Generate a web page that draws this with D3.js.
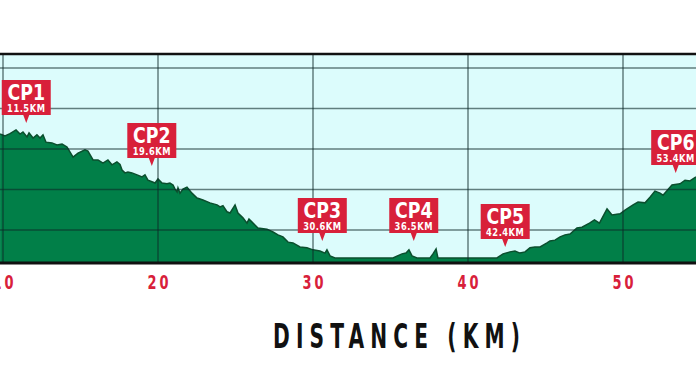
<!DOCTYPE html>
<html>
<head>
<meta charset="utf-8">
<script src="https://cdn.jsdelivr.net/npm/d3@7/dist/d3.min.js"></script>
<style>
  html, body { margin: 0; padding: 0; background: #ffffff; overflow: hidden; }
  svg { display: block; }
</style>
</head>
<body>
<svg id="chart" width="696" height="385"></svg>
<script>
// ---- data ----
const kmTicks = [10, 20, 30, 40, 50];
const kmTickLabels = ["10", "20", "30", "40", "50"];
const elevTicks = [100, 200, 300, 400, 500];

const distanceKm = [
  9.81, 10.13, 10.45, 10.84, 11.10, 11.29, 11.55, 11.68, 11.94, 12.19, 12.39, 12.58, 12.77,
  13.16, 13.48, 13.81, 14.13, 14.52, 14.84, 15.29, 15.48, 15.81, 16.13, 16.45, 16.77,
  17.03, 17.35, 17.55, 17.68, 17.87, 18.06, 18.32, 18.65, 18.97, 19.16, 19.35, 19.61,
  19.81, 20.00, 20.26, 20.58, 20.77, 20.97, 21.10, 21.23, 21.29, 21.42, 21.61, 21.87,
  22.19, 22.52, 22.90, 23.35, 23.81, 24.00, 24.19, 24.45, 24.65, 24.97, 25.16, 25.48,
  25.74, 25.87, 26.13, 26.45, 27.03, 27.42, 27.74, 28.06, 28.39, 28.71, 29.16, 29.61,
  30.00, 30.45, 30.77, 30.90, 31.10, 31.42, 35.16, 35.74, 36.00, 36.19, 36.39, 36.71,
  37.55, 37.74, 37.94, 38.06, 41.87, 42.26, 42.71, 43.03, 43.35, 43.68, 44.00, 44.32,
  44.65, 45.10, 45.29, 45.61, 45.94, 46.26, 46.58, 47.03, 47.35, 47.84, 48.16, 48.48,
  48.97, 49.29, 49.81, 50.13, 50.65, 50.97, 51.42, 51.74, 52.06, 52.39, 52.58, 53.16,
  53.68, 54.00, 54.32, 54.71
];
const elevationM = [
  337, 332, 338, 347, 337, 342, 330, 340, 327, 335, 327, 335, 317,
  315, 310, 312, 305, 280, 290, 298, 295, 273, 273, 265, 273,
  261, 268, 262, 248, 241, 243, 241, 236, 231, 236, 223, 219,
  216, 226, 216, 214, 216, 211, 201, 194, 204, 191, 201, 206,
  191, 179, 174, 167, 162, 157, 160, 145, 142, 162, 142, 130,
  117, 127, 117, 105, 102, 95, 88, 83, 70, 68, 58, 56,
  51, 48, 43, 51, 36, 31, 31, 41, 43, 51, 36, 31,
  31, 41, 53, 31, 31, 41, 46, 48, 43, 46, 56, 58,
  58, 68, 73, 75, 83, 88, 90, 105, 107, 117, 125, 117,
  152, 137, 140, 149, 162, 169, 167, 181, 196, 191, 186, 211,
  214, 223, 221, 231
];

const cpNames = ["CP1", "CP2", "CP3", "CP4", "CP5", "CP6"];
const cpKm = [11.5, 19.6, 30.6, 36.5, 42.4, 53.4];
const cpKmLabels = ["11.5KM", "19.6KM", "30.6KM", "36.5KM", "42.4KM", "53.4KM"];
const cpMarkerElev = [364, 258, 73, 73, 58, 241];

const axisTitle = "DISTANCE (KM)";

// ---- layout ----
const W = 696, H = 385;
const plotTop = 54, plotBottom = 263;
const RED = "#d8203a";
const COND = "'DejaVu Sans Condensed', 'DejaVu Sans', sans-serif";

const x = d3.scaleLinear().domain([10, 50]).range([3, 623]);
const y = d3.scaleLinear().domain([18.5, 534.6]).range([plotBottom, plotTop]);

const svg = d3.select("#chart");

svg.append("defs").append("clipPath").attr("id", "plotclip")
  .append("rect").attr("x", 0).attr("y", plotTop).attr("width", W).attr("height", plotBottom - plotTop);

// background
svg.append("rect")
  .attr("x", 0).attr("y", plotTop).attr("width", W).attr("height", plotBottom - plotTop)
  .attr("fill", "#dcfcfc");

const profile = distanceKm.map((d, i) => ({ km: d, e: elevationM[i] }));

const area = d3.area()
  .x(d => x(d.km))
  .y0(plotBottom)
  .y1(d => y(d.e));
const line = d3.line()
  .x(d => x(d.km))
  .y(d => y(d.e));

const g = svg.append("g").attr("clip-path", "url(#plotclip)");
g.append("path").datum(profile).attr("d", area).attr("fill", "#017f48");
g.append("path").datum(profile).attr("d", line)
  .attr("fill", "none").attr("stroke", "#0b4f2e").attr("stroke-width", 1.5)
  .attr("stroke-linejoin", "miter");

// grid lines on top (semi-transparent)
const grid = svg.append("g").attr("stroke", "#0d2a2a").attr("stroke-opacity", 0.6).attr("stroke-width", 1.5);
grid.selectAll("line.h").data(elevTicks).join("line")
  .attr("class", "h")
  .attr("x1", 0).attr("x2", W)
  .attr("y1", d => y(d)).attr("y2", d => y(d));
grid.selectAll("line.v").data(kmTicks).join("line")
  .attr("class", "v")
  .attr("x1", d => x(d)).attr("x2", d => x(d))
  .attr("y1", plotTop).attr("y2", plotBottom);

// top border and bottom axis line
svg.append("line").attr("x1", 0).attr("x2", W).attr("y1", plotTop).attr("y2", plotTop)
  .attr("stroke", "#111").attr("stroke-width", 2.5);

const xAxis = d3.axisBottom(x).tickValues(kmTicks)
  .tickFormat((d, i) => kmTickLabels[i]).tickSize(0).tickPadding(10);
const axG = svg.append("g").attr("transform", `translate(0,${plotBottom})`).call(xAxis);
axG.select(".domain").remove();
axG.append("line").attr("x1", 0).attr("x2", W).attr("y1", 0).attr("y2", 0)
  .attr("stroke", "#111").attr("stroke-width", 3);
axG.selectAll(".tick text")
  .attr("fill", RED)
  .attr("font-family", COND)
  .attr("font-weight", "bold")
  .attr("font-size", 20)
  .attr("letter-spacing", "4px")
  .attr("dy", 0)
  .attr("y", 0)
  .attr("transform", "translate(1,26) scale(0.72,1)");

// axis title (condensed horizontally, widely spaced)
const titleScale = 0.66;
svg.append("text")
  .attr("transform", `translate(273,348) scale(${titleScale},1)`)
  .attr("x", 0).attr("y", 0)
  .attr("font-family", COND)
  .attr("font-weight", "bold")
  .attr("font-size", 34)
  .attr("fill", "#111")
  .attr("textLength", 247 / titleScale)
  .attr("lengthAdjust", "spacing")
  .text(axisTitle);

// checkpoint markers
const boxW = 49, boxH = 35, ptrH = 8, ptrW = 6;
const cps = svg.append("g");
cpNames.forEach((name, i) => {
  const tx = x(cpKm[i]);
  const ty = y(cpMarkerElev[i]);
  const top = ty - ptrH - boxH;
  const m = cps.append("g");
  m.append("path")
    .attr("d", `M${tx - boxW / 2},${top} h${boxW} v${boxH} H${tx + ptrW / 2} L${tx},${ty} L${tx - ptrW / 2},${top + boxH} H${tx - boxW / 2} Z`)
    .attr("fill", RED);
  m.append("text")
    .attr("transform", `translate(${tx},${top + 20}) scale(0.92,1)`)
    .attr("text-anchor", "middle")
    .attr("font-family", COND).attr("font-weight", "bold")
    .attr("font-size", 21).attr("fill", "#fff")
    .text(name);
  m.append("text")
    .attr("transform", `translate(${tx},${top + 32}) scale(0.88,1)`)
    .attr("text-anchor", "middle")
    .attr("font-family", COND).attr("font-weight", "bold")
    .attr("font-size", 10.5).attr("fill", "#fff")
    .attr("letter-spacing", "0.6px")
    .text(cpKmLabels[i]);
});
</script>
</body>
</html>
